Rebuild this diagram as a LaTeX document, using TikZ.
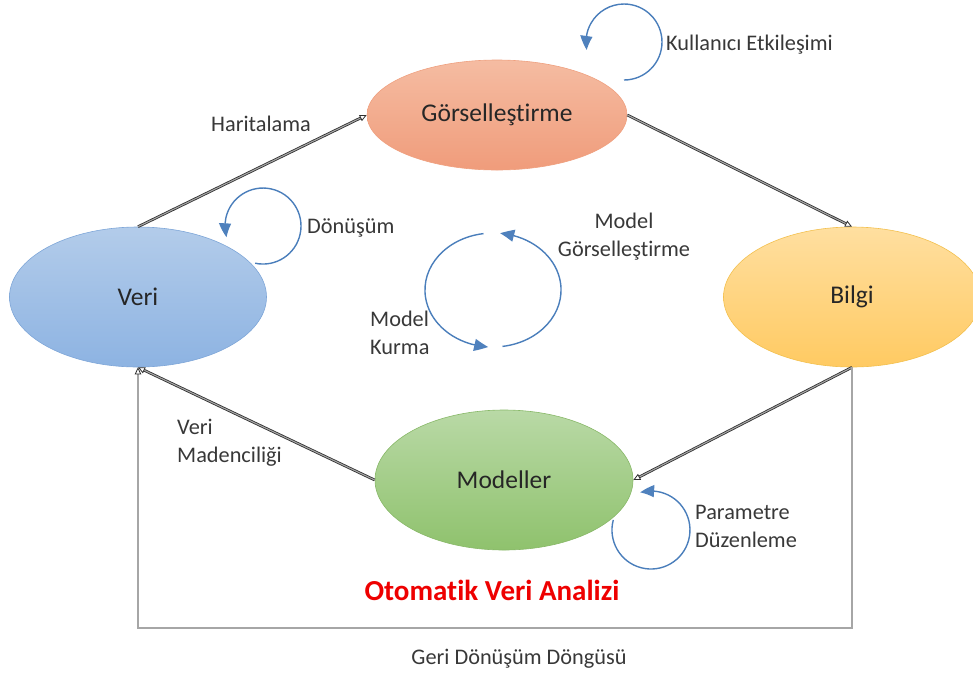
\documentclass[tikz,border=0pt]{standalone}
\usepackage{fontspec}
\setmainfont{Carlito}[Ligatures=NoCommon]
\usetikzlibrary{shapes.geometric,arrows.meta,bending}

\definecolor{loopblue}{HTML}{4A7EBB}
\definecolor{tipblue}{HTML}{4F81BD}
\definecolor{linkgray}{HTML}{2E2E2E}
\definecolor{gorTop}{HTML}{F5BCA2}
\definecolor{gorBot}{HTML}{F09C7B}
\definecolor{gorEdge}{HTML}{EFA07F}
\definecolor{veriTop}{HTML}{B3CCEA}
\definecolor{veriBot}{HTML}{8DB3E2}
\definecolor{veriEdge}{HTML}{7EA6D8}
\definecolor{bilgiTop}{HTML}{FFDFA0}
\definecolor{bilgiBot}{HTML}{FFCA62}
\definecolor{bilgiEdge}{HTML}{F3C04E}
\definecolor{modTop}{HTML}{B9D9A6}
\definecolor{modBot}{HTML}{8FC26D}
\definecolor{modEdge}{HTML}{88B868}
\definecolor{titleRed}{HTML}{EE0000}

\tikzset{
  stage/.style={ellipse, inner sep=0pt, font=\fontsize{25.5}{30}\selectfont, text=black!85, line width=0.6pt},
  lbl/.style={font=\fontsize{22.3}{28}\selectfont, text=black!78, inner sep=0pt},
  link/.style={draw=linkgray, line width=0.8pt, double=white!65!black, double distance=1.1pt,
               -{Triangle[open, length=7pt, width=6.5pt]}},
  selfloop/.style={draw=loopblue, line width=1.4pt,
               -{Triangle[length=14pt, width=12pt, fill=tipblue, color=tipblue, bend]}},
}

\begin{document}
\begin{tikzpicture}[x=1pt, y=-1pt]
  \useasboundingbox (0,0) rectangle (973,673);
  \clip (0,0) rectangle (973,673);

  % the four stages
  \node[stage, minimum width=260pt, minimum height=110pt,
        top color=gorTop, bottom color=gorBot, draw=gorEdge] (gor) at (497,115) {Görselleştirme};
  \node[stage, minimum width=257pt, minimum height=140pt,
        top color=veriTop, bottom color=veriBot, draw=veriEdge] (veri) at (138,297) {Veri};
  \node[stage, minimum width=257pt, minimum height=140pt,
        top color=bilgiTop, bottom color=bilgiBot, draw=bilgiEdge] (bilgi) at (852,297) {Bilgi};
  \node[stage, minimum width=258pt, minimum height=140pt,
        top color=modTop, bottom color=modBot, draw=modEdge] (model) at (504,480) {Modeller};

  % main cycle
  \draw[link] (veri.north) -- (gor.west);
  \draw[link] (gor.east) -- (bilgi.north);
  \draw[link] (bilgi.south) -- (model.east);
  \draw[link] (model.west) -- (veri.south);

  % feedback loop along the bottom
  \coordinate (fbR) at (852,628);
  \coordinate (fbL) at (138,628);
  \draw[link] (bilgi.south) -- (fbR) -- (fbL) -- (veri.south);

  % self loops
  \draw[selfloop] (624,80) arc[start angle=90, end angle=-192, radius=38];
  \draw[selfloop] (255.1,263.2) arc[start angle=102, end angle=-197, radius=38];
  \draw[selfloop] (613.3,519.9) arc[start angle=-165, end angle=-466, radius=39];

  % model building / model visualisation cycle
  \draw[selfloop] (483.5,233.6) arc[start angle=-98, end angle=-266, x radius=68, y radius=57];
  \draw[selfloop] (502.5,346.4) arc[start angle=-278, end angle=-444, x radius=68, y radius=57];

  % labels
  \node[lbl] (lHar) at (261,124) {Haritalama};
  \node[lbl, anchor=west] (lKul) at (666,45) {Kullanıcı Etkileşimi};
  \node[lbl, anchor=west] (lDon) at (307,228) {Dönüşüm};
  \node[lbl, align=center] (lMG) at (624,237) {Model\\Görselleştirme};
  \node[lbl, align=left, anchor=west] (lMK) at (370,333) {Model\\Kurma};
  \node[lbl, align=left, anchor=west] (lVM) at (177,443) {Veri\\Madenciliği};
  \node[lbl, align=left, anchor=west] (lPD) at (695,526) {Parametre\\Düzenleme};
  \node[font=\fontsize{29}{33}\selectfont\bfseries, text=titleRed, inner sep=0pt] (title) at (492,590) {Otomatik Veri Analizi};
  \node[lbl] (lGeri) at (519,659) {Geri Dönüşüm Döngüsü};
\end{tikzpicture}
\end{document}
